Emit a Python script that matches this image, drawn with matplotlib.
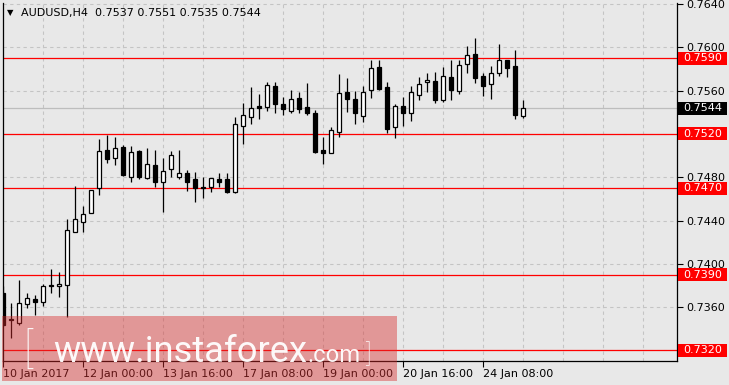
import matplotlib
matplotlib.use("Agg")
import matplotlib.pyplot as plt
from matplotlib.patches import Rectangle
import numpy as np

# ---------------- data ----------------
opens = [0.7373, 0.7349, 0.7345, 0.7363, 0.7367, 0.7365, 0.7380, 0.7379, 0.7380, 0.7429,
         0.7439, 0.7447, 0.7470, 0.7505, 0.7498, 0.7508, 0.7480, 0.7504, 0.7479, 0.7491,
         0.7476, 0.7488, 0.7480, 0.7484, 0.7478, 0.7471, 0.7471, 0.7478, 0.7478, 0.7466,
         0.7527, 0.7536, 0.7546, 0.7545, 0.7564, 0.7548, 0.7541, 0.7553, 0.7545, 0.7539,
         0.7505, 0.7502, 0.7522, 0.7559, 0.7552, 0.7537, 0.7561, 0.7582, 0.7563, 0.7526,
         0.7546, 0.7539, 0.7556, 0.7568, 0.7569, 0.7551, 0.7573, 0.7560, 0.7585, 0.7594,
         0.7574, 0.7566, 0.7576, 0.7588, 0.7583, 0.7537]
highs = [0.7379, 0.7364, 0.7385, 0.7373, 0.7371, 0.7381, 0.7395, 0.7392, 0.7441, 0.7472,
         0.7453, 0.7468, 0.7515, 0.7519, 0.7517, 0.7510, 0.7509, 0.7505, 0.7507, 0.7505,
         0.7498, 0.7504, 0.7505, 0.7487, 0.7485, 0.7480, 0.7479, 0.7484, 0.7484, 0.7536,
         0.7549, 0.7563, 0.7557, 0.7568, 0.7568, 0.7554, 0.7561, 0.7559, 0.7567, 0.7542,
         0.7517, 0.7526, 0.7575, 0.7572, 0.7560, 0.7564, 0.7588, 0.7588, 0.7568, 0.7548,
         0.7554, 0.7564, 0.7573, 0.7576, 0.7577, 0.7582, 0.7588, 0.7588, 0.7601, 0.7609,
         0.7576, 0.7583, 0.7603, 0.7588, 0.7598, 0.7551]
lows = [0.7342, 0.7331, 0.7343, 0.7359, 0.7353, 0.7361, 0.7373, 0.7369, 0.7351, 0.7429,
        0.7429, 0.7447, 0.7464, 0.7493, 0.7491, 0.7481, 0.7476, 0.7478, 0.7478, 0.7471,
        0.7448, 0.7480, 0.7478, 0.7467, 0.7457, 0.7461, 0.7466, 0.7471, 0.7465, 0.7465,
        0.7511, 0.7529, 0.7534, 0.7541, 0.7539, 0.7538, 0.7539, 0.7539, 0.7538, 0.7502,
        0.7492, 0.7502, 0.7517, 0.7540, 0.7529, 0.7531, 0.7553, 0.7561, 0.7521, 0.7516,
        0.7527, 0.7532, 0.7551, 0.7559, 0.7549, 0.7550, 0.7551, 0.7557, 0.7576, 0.7567,
        0.7555, 0.7552, 0.7574, 0.7573, 0.7534, 0.7535]
closes = [0.7343, 0.7348, 0.7364, 0.7368, 0.7365, 0.7379, 0.7379, 0.7381, 0.7431, 0.7441,
          0.7446, 0.7468, 0.7504, 0.7497, 0.7507, 0.7482, 0.7503, 0.7480, 0.7492, 0.7476,
          0.7486, 0.7501, 0.7484, 0.7476, 0.7470, 0.7470, 0.7479, 0.7476, 0.7466, 0.7529,
          0.7538, 0.7544, 0.7544, 0.7565, 0.7548, 0.7543, 0.7552, 0.7543, 0.7539, 0.7503,
          0.7502, 0.7524, 0.7558, 0.7552, 0.7539, 0.7559, 0.7581, 0.7562, 0.7525, 0.7546,
          0.7539, 0.7559, 0.7566, 0.7570, 0.7551, 0.7574, 0.7561, 0.7584, 0.7593, 0.7572,
          0.7564, 0.7576, 0.7588, 0.7581, 0.7538, 0.7544]

time_tick_bars = [0, 10, 20, 30, 40, 50, 60]
time_tick_labels = ["10 Jan 2017", "12 Jan 00:00", "13 Jan 16:00", "17 Jan 08:00",
                    "19 Jan 00:00", "20 Jan 16:00", "24 Jan 08:00"]
price_ticks = [0.7320, 0.7360, 0.7400, 0.7440, 0.7480, 0.7520, 0.7560, 0.7600, 0.7640]
levels = [0.7590, 0.7520, 0.7470, 0.7390, 0.7320]
last_price = 0.7544
title = "AUDUSD,H4  0.7537 0.7551 0.7535 0.7544"
watermark_main = "www.instaforex"
watermark_tail = ".com"

# ---------------- figure ----------------
W, H = 729, 385
BG = "#E8E8E8"
fig = plt.figure(figsize=(W / 100, H / 100), dpi=100)
fig.patch.set_facecolor(BG)
ax = fig.add_axes([3 / W, 24 / H, 674 / W, 358 / H])
ax.set_facecolor(BG)

x = np.arange(len(opens))
o = np.array(opens); h = np.array(highs); l = np.array(lows); c = np.array(closes)

ax.set_xlim(0, 84.25)
ax.set_ylim(0.731009, 0.764111)

# grid
for gx in range(5, 85, 5):
    ax.axvline(gx, color="#C4C4C4", lw=0.8, ls=(0, (3, 3)), zorder=0.5)
for gy in price_ticks:
    ax.axhline(gy, color="#C4C4C4", lw=0.8, ls=(0, (3, 3)), zorder=0.5)

# current price line and levels
ax.axhline(last_price, color="#BDBDBD", lw=0.9, zorder=0.8)
for lv in levels:
    ax.axhline(lv, color="#FF0000", lw=0.9, zorder=1)

# candles
ax.vlines(x, l, h, color="black", lw=0.9, zorder=2)
up = c >= o
body_bottom = np.minimum(o, c)
body_h = np.maximum(np.abs(c - o), 0.00002)
ax.bar(x[up], body_h[up], bottom=body_bottom[up], width=0.5,
       facecolor="white", edgecolor="black", linewidth=0.9, zorder=3)
ax.bar(x[~up], body_h[~up], bottom=body_bottom[~up], width=0.5,
       facecolor="black", edgecolor="black", linewidth=0.9, zorder=3)

# axes styling
for s in ["left", "right", "bottom"]:
    ax.spines[s].set_color("black")
    ax.spines[s].set_linewidth(0.9)
ax.spines["top"].set_visible(False)

ax.yaxis.tick_right()
ax.set_yticks(price_ticks)
ax.set_yticklabels(["" if p in levels else f"{p:.4f}" for p in price_ticks])
ax.tick_params(axis="y", direction="out", length=4, width=0.8, labelsize=8,
               pad=3, colors="black")
ax.set_xticks(time_tick_bars)
ax.set_xticklabels(time_tick_labels)
for lbl in ax.get_xticklabels():
    lbl.set_ha("left")
ax.tick_params(axis="x", direction="out", length=4, width=0.8, labelsize=8,
               pad=2, colors="black")

# price boxes on the right
ytr = ax.get_yaxis_transform()
bx0 = (678 - 3) / 674
bw = 49 / 674
bh = 13 / 10815
for lv in levels:
    ax.add_patch(Rectangle((bx0, lv - bh / 2), bw, bh, transform=ytr,
                           facecolor="#FF0000", edgecolor="none", clip_on=False, zorder=5))
    ax.text((683 - 3) / 674, lv, f"{lv:.4f}", transform=ytr, color="white",
            fontsize=8, va="center", ha="left", clip_on=False, zorder=6)
ax.add_patch(Rectangle((bx0, last_price - bh / 2), bw, bh, transform=ytr,
                       facecolor="black", edgecolor="none", clip_on=False, zorder=5))
ax.text((683 - 3) / 674, last_price, f"{last_price:.4f}", transform=ytr, color="white",
        fontsize=8, va="center", ha="left", clip_on=False, zorder=6)

# title
fig.text(7 / W, 1 - 13 / H, "\u25BC", fontsize=6, color="black", va="center", ha="left")
fig.text(21 / W, 1 - 13 / H, title, fontsize=8, color="black", va="center", ha="left")

# watermark
fig.add_artist(Rectangle((2 / W, 4 / H), (397 - 2) / W, (381 - 316) / H,
                         transform=fig.transFigure, facecolor=(218 / 255, 46 / 255, 46 / 255),
                         alpha=0.43, edgecolor="none", zorder=10))
wm_kw = dict(color="white", va="baseline", ha="left", family=["Roboto", "DejaVu Sans"],
             fontweight="normal", zorder=11, alpha=0.95)
renderer = fig.canvas.get_renderer()
base_y = 1 - 362 / H
t_main = fig.text(53 / W, base_y, watermark_main, fontsize=26, **wm_kw)
wpx = t_main.get_window_extent(renderer).width
t_main.set_fontsize(26 * 254 / wpx)
t_tail = fig.text(307 / W, base_y, watermark_tail, fontsize=19, **wm_kw)
wpx2 = t_tail.get_window_extent(renderer).width
t_tail.set_fontsize(19 * 53 / wpx2)
fig.text(23 / W, 1 - 364 / H, "[", fontsize=30, color="white", va="baseline", ha="left",
         family=["Roboto", "DejaVu Sans"], fontweight="light", zorder=11, alpha=0.95)
fig.text(365 / W, base_y, "]", fontsize=19, color="white", va="baseline", ha="left",
         family=["Roboto", "DejaVu Sans"], fontweight="light", zorder=11, alpha=0.95)

fig.savefig("out.png", dpi=100, facecolor=BG)
